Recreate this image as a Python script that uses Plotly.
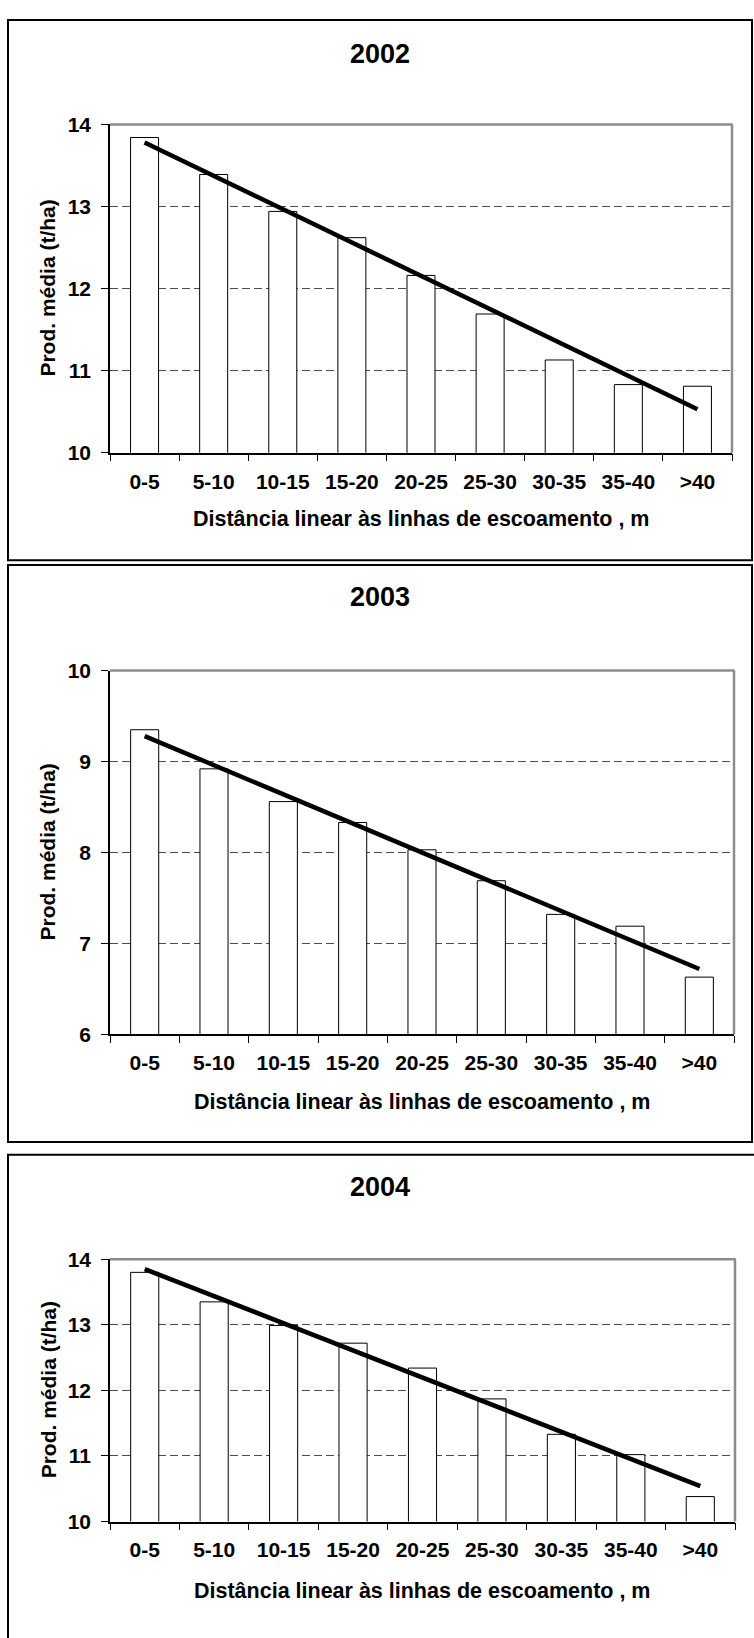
import plotly.graph_objects as go

# ---------------- data ----------------
categories = ["0-5", "5-10", "10-15", "15-20", "20-25", "25-30", "30-35", "35-40", ">40"]
years = ["2002", "2003", "2004"]
prod_2002 = [13.84, 13.39, 12.94, 12.62, 12.16, 11.69, 11.13, 10.83, 10.81]
prod_2003 = [9.35, 8.92, 8.56, 8.33, 8.03, 7.69, 7.32, 7.19, 6.63]
prod_2004 = [13.80, 13.35, 12.99, 12.72, 12.34, 11.87, 11.33, 11.02, 10.38]
trend_2002 = [13.78, 10.53]
trend_2003 = [9.28, 6.72]
trend_2004 = [13.85, 10.54]
y_range_2002 = [10, 14]
y_range_2003 = [6, 10]
y_range_2004 = [10, 14]
y_ticks_2002 = [10, 11, 12, 13, 14]
y_ticks_2003 = [6, 7, 8, 9, 10]
y_ticks_2004 = [10, 11, 12, 13, 14]
x_title = "Distância linear às linhas de escoamento , m"
y_title = "Prod. média (t/ha)"

series = [prod_2002, prod_2003, prod_2004]
trends = [trend_2002, trend_2003, trend_2004]
y_ranges = [y_range_2002, y_range_2003, y_range_2004]
y_ticks = [y_ticks_2002, y_ticks_2003, y_ticks_2004]

# ---------------- layout (pixels) ----------------
W, H = 754, 1638
panels = [
    dict(box=(8, 8, 752, 556), plot=(110, 114, 732, 447), title_y=43, xtitle_y=514),
    dict(box=(8, 561, 752, 1146), plot=(110, 668, 734, 1037), title_y=593, xtitle_y=1106),
    dict(box=(8, 1159, 790, 1680), plot=(110, 1265, 735, 1531), title_y=1192, xtitle_y=1601),
]

FONT = "Liberation Sans, Arial, Helvetica, sans-serif"

def px(x):
    return x / W

def py(y):
    return 1 - y / H

fig = go.Figure()
shapes = []
annotations = []

for i, (yr, vals, tr, yrng, ytk, p) in enumerate(zip(years, series, trends, y_ranges, y_ticks, panels)):
    n = "" if i == 0 else str(i + 1)
    xa, ya = "x" + n, "y" + n
    fig.add_trace(go.Bar(
        x=categories, y=vals, xaxis=xa, yaxis=ya,
        marker=dict(color="white", line=dict(color="black", width=1)),
        showlegend=False, hoverinfo="x+y",
    ))
    fig.add_trace(go.Scatter(
        x=[categories[0], categories[-1]], y=tr, xaxis=xa, yaxis=ya,
        mode="lines", line=dict(color="black", width=4.5),
        showlegend=False, hoverinfo="skip",
    ))
    x0, y0, x1, y1 = p["plot"]
    fig.layout["xaxis" + n] = dict(
        domain=[px(x0), px(x1)], anchor=ya, type="category",
        range=[-0.5, len(categories) - 0.5],
        tickson="boundaries", ticks="outside", ticklen=7, tickwidth=1, tickcolor="black",
        showline=True, linecolor="black", linewidth=1.5,
        showgrid=False, zeroline=False, tickangle=0,
        tickfont=dict(family=FONT, size=21, color="black", weight="bold"),
        ticklabelstandoff=9, fixedrange=True,
    )
    fig.layout["yaxis" + n] = dict(
        domain=[py(y1), py(y0)], anchor=xa, range=yrng,
        tickmode="array", tickvals=ytk, ticktext=[str(t) for t in ytk],
        ticks="outside", ticklen=7, tickwidth=1, tickcolor="black",
        showline=True, linecolor="black", linewidth=1.5,
        showgrid=True, gridcolor="#4a4a4a", gridwidth=1, griddash="8px,4px",
        zeroline=False,
        tickfont=dict(family=FONT, size=21, color="black", weight="bold"),
        ticklabelstandoff=6, fixedrange=True,
    )
    # gray top and right frame of the plot area
    shapes.append(dict(type="line", xref="paper", yref="paper",
                       x0=px(x0), x1=px(x1) + 0.001, y0=py(y0), y1=py(y0),
                       line=dict(color="#8c8c8c", width=2.5), layer="above"))
    shapes.append(dict(type="line", xref="paper", yref="paper",
                       x0=px(x1), x1=px(x1), y0=py(y0), y1=py(y1),
                       line=dict(color="#8c8c8c", width=2.5), layer="above"))
    # panel border
    bx0, by0, bx1, by1 = p["box"]
    shapes.append(dict(type="rect", xref="paper", yref="paper",
                       x0=px(bx0), x1=px(bx1), y0=py(by0), y1=py(by1),
                       line=dict(color="black", width=2), fillcolor="rgba(0,0,0,0)",
                       layer="above"))
    annotations.append(dict(text=yr, xref="paper", yref="paper",
                            x=px((bx0 + min(bx1, 752)) / 2), y=py(p["title_y"]),
                            xanchor="center", yanchor="middle", showarrow=False,
                            font=dict(family=FONT, size=27, color="black", weight="bold")))
    annotations.append(dict(text=x_title, xref="paper", yref="paper",
                            x=px((x0 + x1) / 2), y=py(p["xtitle_y"]),
                            xanchor="center", yanchor="middle", showarrow=False,
                            font=dict(family=FONT, size=21.5, color="black", weight="bold")))
    annotations.append(dict(text=y_title, xref="paper", yref="paper",
                            x=px(48), y=py((y0 + y1) / 2), textangle=-90,
                            xanchor="center", yanchor="middle", showarrow=False,
                            font=dict(family=FONT, size=21, color="black", weight="bold")))

fig.update_layout(
    width=W, height=H, margin=dict(l=0, r=0, t=0, b=0),
    paper_bgcolor="white", plot_bgcolor="white",
    bargap=0.595, shapes=shapes, annotations=annotations,
    showlegend=False,
)

pin = ("document.documentElement.style.margin='0';"
       "document.body.style.margin='0';document.body.style.padding='0';"
       "var gd=document.getElementById('{plot_id}');"
       "gd.style.position='fixed';gd.style.top='0px';gd.style.left='0px';")

fig.write_html("out.html", config={"displayModeBar": False}, post_script=pin)
